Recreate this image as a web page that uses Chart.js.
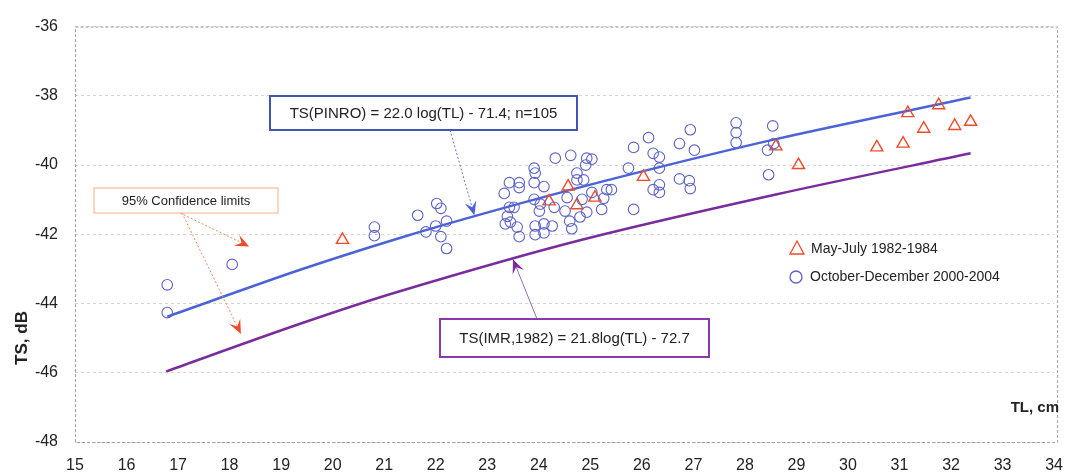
<!DOCTYPE html>
<html>
<head>
<meta charset="utf-8">
<script src="https://cdn.jsdelivr.net/npm/chart.js@4/dist/chart.umd.min.js"></script>
<style>
  html, body { margin: 0; padding: 0; background: #fff; }
  #wrap { width: 1077px; height: 476px; }
</style>
</head>
<body>
<div id="wrap"><canvas id="tsChart" width="1077" height="476"></canvas></div>
<script>
// TL, cm / TS, dB 산점도 (PINRO vs IMR 회귀선)

/* ── 데이터 ── */
const xTicks = [15, 16, 17, 18, 19, 20, 21, 22, 23, 24, 25, 26, 27, 28, 29, 30, 31, 32, 33, 34];
const yTicks = [-48, -46, -44, -42, -40, -38, -36];

// October-December 2000-2004 (원)
const octTL = [16.79, 16.79, 18.05, 20.81, 20.81, 21.65, 22.02, 22.10, 22.21, 22.00, 21.81, 22.10, 22.21,
  23.33, 23.43, 23.62, 23.62, 23.91, 23.93, 23.91, 24.10, 24.32, 24.62, 24.93, 25.03, 24.91, 24.74, 24.74,
  24.87, 23.91, 23.43, 23.52, 24.03, 24.30, 24.55, 24.84, 25.03, 25.32, 25.26, 23.39, 23.45, 24.01, 24.51,
  24.93, 24.80, 25.22, 23.58, 23.62, 23.35, 23.93, 24.10, 24.26, 23.93, 24.10, 24.60, 24.64,
  25.41, 25.74, 25.84, 26.13, 26.22, 26.34, 26.34, 25.84, 26.22, 26.34, 26.34, 26.73, 26.94, 27.02,
  26.73, 26.92, 26.94, 27.83, 27.83, 27.83, 28.54, 28.56, 28.44, 28.46];
const octTS = [-44.26, -43.46, -42.87, -41.79, -42.04, -41.45, -41.11, -41.25, -41.62, -41.76, -41.93, -42.07, -42.41,
  -40.82, -40.51, -40.51, -40.65, -40.09, -40.23, -40.51, -40.62, -39.80, -39.72, -39.80, -39.83, -40.00, -40.23, -40.43,
  -40.43, -40.99, -41.22, -41.22, -41.13, -41.22, -40.94, -40.99, -40.79, -40.71, -40.96, -41.48, -41.65, -41.33, -41.33,
  -41.36, -41.50, -41.28, -41.79, -42.07, -41.70, -41.76, -41.70, -41.76, -42.01, -41.96, -41.62, -41.84,
  -40.71, -40.09, -39.49, -39.21, -39.66, -39.77, -40.09, -41.28, -40.71, -40.57, -40.79, -39.38, -38.98, -39.57,
  -40.40, -40.45, -40.68, -38.78, -39.06, -39.35, -38.87, -39.38, -39.57, -40.28];

// May-July 1982-1984 (삼각형)
const mayTL = [20.19, 24.20, 24.57, 24.74, 25.09, 26.03, 28.60, 29.04, 30.56, 31.07, 31.16, 31.47, 31.76, 32.07, 32.38];
const mayTS = [-42.16, -41.05, -40.62, -41.16, -40.94, -40.34, -39.46, -40.00, -39.49, -39.38, -38.50, -38.95, -38.27, -38.87, -38.75];

// 회귀선
const pinroTL = [16.79, 19.34, 21.27, 23.10, 25.51, 28.60, 32.38];
const pinroTS = [-44.38, -43.04, -42.12, -41.33, -40.37, -39.25, -38.05];
const imrTL = [16.77, 19.34, 21.27, 24.78, 28.60, 32.38];
const imrTS = [-45.96, -44.60, -43.66, -42.18, -40.85, -39.66];

const toXY = (xs, ys) => xs.map((x, i) => ({ x, y: ys[i] }));

const FONT = "'Liberation Sans', Arial, sans-serif";
const TICK_FONT = "'Liberation Sans Narrow', 'Liberation Sans', Arial, sans-serif";
const BLUE = '#4b63d6';
const PURPLE = '#7a2c9c';
const CIRCLE = '#5b62c9';
const TRI = '#ef4b2b';

/* ── 화살표 ── */
function drawArrow(ctx, x1, y1, x2, y2, lineColor, headColor, dash) {
  const ang = Math.atan2(y2 - y1, x2 - x1);
  const len = 14, wid = 6;
  ctx.save();
  ctx.strokeStyle = lineColor;
  ctx.lineWidth = 1;
  ctx.setLineDash(dash);
  ctx.beginPath();
  ctx.moveTo(x1, y1);
  ctx.lineTo(x2 - Math.cos(ang) * len * 0.6, y2 - Math.sin(ang) * len * 0.6);
  ctx.stroke();
  ctx.setLineDash([]);
  ctx.translate(x2, y2);
  ctx.rotate(ang);
  ctx.fillStyle = headColor;
  ctx.beginPath();
  ctx.moveTo(0, 0);
  ctx.lineTo(-len, -wid);
  ctx.lineTo(-len * 0.6, 0);
  ctx.lineTo(-len, wid);
  ctx.closePath();
  ctx.fill();
  ctx.restore();
}

function drawBox(ctx, x, y, w, h, border, lw, text, size) {
  ctx.save();
  ctx.fillStyle = '#fff';
  ctx.fillRect(x, y, w, h);
  ctx.strokeStyle = border;
  ctx.lineWidth = lw;
  ctx.strokeRect(x, y, w, h);
  ctx.fillStyle = '#222';
  ctx.font = size + 'px ' + FONT;
  ctx.textBaseline = 'middle';
  ctx.textAlign = 'center';
  ctx.fillText(text, x + w / 2, y + h / 2 + 1);
  ctx.restore();
}

/* ── 프레임 ── */
const framePlugin = {
  id: 'frame',
  beforeDatasetsDraw(chart) {
    const { ctx, chartArea: a } = chart;
    ctx.save();
    ctx.strokeStyle = '#a0a0a0';
    ctx.lineWidth = 1;
    ctx.setLineDash([3, 2]);
    ctx.strokeRect(a.left + 0.5, a.top + 0.5, a.right - a.left + 3, a.bottom - a.top);
    ctx.restore();
  },
};

/* ── 주석, 범례, 축 제목 ── */
const notesPlugin = {
  id: 'notes',
  afterDraw(chart) {
    const { ctx } = chart;
    const xs = chart.scales.x, ys = chart.scales.y;
    const px = (v) => xs.getPixelForValue(v);
    const py = (v) => ys.getPixelForValue(v);

    // 화살표
    drawArrow(ctx, 450, 130, px(22.75), py(-41.45), '#6b7ab8', BLUE, [2, 2]);
    drawArrow(ctx, 537, 319, px(23.5), py(-42.72), '#9a6ab0', PURPLE, []);
    drawArrow(ctx, 180, 213, px(18.38), py(-42.35), '#f08a5a', TRI, [2, 2]);
    drawArrow(ctx, 182, 213, px(18.22), py(-44.88), '#f08a5a', TRI, [2, 2]);

    // 수식 박스
    drawBox(ctx, 270, 96, 307, 34, '#3f55b8', 2, 'TS(PINRO) = 22.0 log(TL) - 71.4; n=105', 15);
    drawBox(ctx, 440, 319, 269, 38, '#8a3aa8', 2, 'TS(IMR,1982) = 21.8log(TL) - 72.7', 15);
    drawBox(ctx, 94, 188, 184, 25, '#f2b090', 1, '95% Confidence limits', 13);

    // 범례
    ctx.save();
    ctx.lineWidth = 1.3;
    ctx.strokeStyle = TRI;
    ctx.beginPath();
    ctx.moveTo(797, 241);
    ctx.lineTo(804, 254);
    ctx.lineTo(790, 254);
    ctx.closePath();
    ctx.stroke();
    ctx.strokeStyle = CIRCLE;
    ctx.beginPath();
    ctx.arc(796, 277, 6, 0, Math.PI * 2);
    ctx.stroke();
    ctx.fillStyle = '#222';
    ctx.font = '14px ' + FONT;
    ctx.textBaseline = 'middle';
    ctx.fillText('May-July 1982-1984', 811, 249);
    ctx.fillText('October-December 2000-2004', 810, 277);

    // 축 제목
    ctx.font = 'bold 15px ' + FONT;
    ctx.textAlign = 'right';
    ctx.fillText('TL, cm', 1059, 408);
    ctx.translate(22, 338);
    ctx.rotate(-Math.PI / 2);
    ctx.textAlign = 'center';
    ctx.font = 'bold 17px ' + FONT;
    ctx.fillText('TS, dB', 0, 0);
    ctx.restore();
  },
};

new Chart(document.getElementById('tsChart'), {
  type: 'scatter',
  data: {
    datasets: [
      {
        label: 'October-December 2000-2004',
        data: toXY(octTL, octTS),
        pointStyle: 'circle',
        pointRadius: 5.3,
        borderColor: CIRCLE,
        backgroundColor: 'rgba(0,0,0,0)',
        borderWidth: 1.1,
        order: 0,
      },
      {
        label: 'May-July 1982-1984',
        data: toXY(mayTL, mayTS),
        pointStyle: 'triangle',
        pointRadius: 7,
        borderColor: TRI,
        backgroundColor: 'rgba(0,0,0,0)',
        borderWidth: 1.4,
        order: 0,
      },
      {
        label: 'PINRO',
        data: toXY(pinroTL, pinroTS),
        showLine: true,
        borderColor: BLUE,
        borderWidth: 2.5,
        pointRadius: 0,
        tension: 0.3,
        order: 1,
      },
      {
        label: 'IMR',
        data: toXY(imrTL, imrTS),
        showLine: true,
        borderColor: PURPLE,
        borderWidth: 2.5,
        pointRadius: 0,
        tension: 0.3,
        order: 1,
      },
    ],
  },
  options: {
    responsive: false,
    animation: false,
    layout: { padding: { top: 19, right: 17, bottom: 0, left: 0 } },
    plugins: { legend: { display: false }, tooltip: { enabled: false } },
    scales: {
      x: {
        type: 'linear',
        min: xTicks[0],
        max: xTicks[xTicks.length - 1],
        afterBuildTicks(scale) { scale.ticks = xTicks.map((v) => ({ value: v })); },
        afterFit(scale) { scale.height = 34; },
        grid: { display: false, drawTicks: false },
        border: { display: false },
        ticks: { color: '#222', padding: 14, maxRotation: 0, autoSkip: false, font: { size: 16, family: TICK_FONT } },
      },
      y: {
        type: 'linear',
        min: yTicks[0],
        max: yTicks[yTicks.length - 1],
        afterBuildTicks(scale) { scale.ticks = yTicks.map((v) => ({ value: v })); },
        afterFit(scale) { scale.width = 75; },
        grid: { color: '#d4d4d4', lineWidth: 1, drawTicks: false },
        border: { display: false, dash: [3, 3] },
        ticks: { color: '#222', padding: 17, font: { size: 16, family: TICK_FONT } },
      },
    },
  },
  plugins: [framePlugin, notesPlugin],
});
</script>
</body>
</html>
